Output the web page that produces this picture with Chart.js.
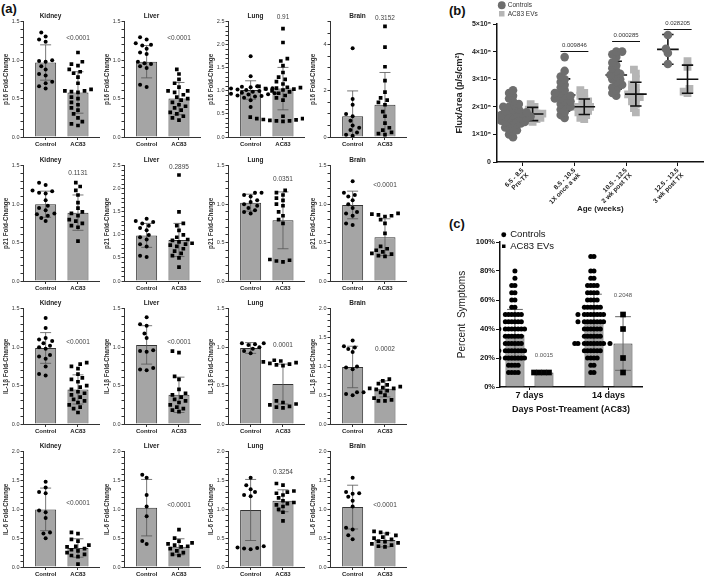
<!DOCTYPE html>
<html lang="en">
<head>
<meta charset="UTF-8">
<title>AC83 EVs: fold-change, flux and symptoms</title>
<script src="https://cdn.jsdelivr.net/npm/chart.js"></script>
<style>
  body { margin: 0; width: 709px; height: 580px; position: relative; overflow: hidden; background: #fff; font-family: "Liberation Sans", Arial, sans-serif; }
  canvas { position: absolute; }
  .tag { position: absolute; font-weight: bold; font-size: 13px; line-height: 1; color: #111; }
</style>
</head>
<body>
<div class="tag" style="left:1px;top:2px">(a)</div>
<div class="tag" style="left:449px;top:4px">(b)</div>
<div class="tag" style="left:449px;top:217px">(c)</div>
<script>
Chart.defaults.font.family = '"Liberation Sans", Arial, sans-serif';
Chart.defaults.color = '#222';

// ---- panel (a): fold-change, Control vs AC83, per organ ----
const organs = ['Kidney', 'Liver', 'Lung', 'Brain'];
const groups = ['Control', 'AC83'];
const markers = ['p16', 'p21', 'IL-1β', 'IL-6'];

const p16Ctrl = [
  [1.36, 1.31, 1.27, 1.24, 1.0, 0.99, 0.98, 0.92, 0.88, 0.82, 0.8, 0.72, 0.7, 0.66, 0.63],
  [1.3, 1.27, 1.22, 1.2, 1.19, 1.15, 1.1, 1.08, 0.98, 0.96, 0.95, 0.92, 0.9, 0.68, 0.65],
  [1.75, 1.32, 1.1, 1.09, 1.08, 1.07, 1.06, 1.05, 1.04, 1.03, 1.02, 1.0, 0.98, 0.97, 0.96, 0.95, 0.94, 0.93, 0.92, 0.9, 0.89, 0.88, 0.85, 0.8, 0.65],
  [3.85, 1.65, 1.4, 1.0, 0.9, 0.7, 0.5, 0.4, 0.3, 0.2, 0.1, 0.05]
];
const p16AC83 = [
  [1.1, 0.98, 0.95, 0.93, 0.88, 0.85, 0.83, 0.78, 0.7, 0.62, 0.6, 0.6, 0.59, 0.58, 0.52, 0.5, 0.45, 0.42, 0.38, 0.35, 0.3, 0.25, 0.2, 0.17, 0.15],
  [0.88, 0.82, 0.75, 0.7, 0.65, 0.6, 0.6, 0.58, 0.55, 0.52, 0.5, 0.48, 0.45, 0.42, 0.4, 0.38, 0.35, 0.32, 0.3, 0.27, 0.25, 0.22],
  [2.35, 2.05, 1.7, 1.65, 1.55, 1.4, 1.3, 1.25, 1.2, 1.15, 1.1, 1.1, 1.08, 1.07, 1.06, 1.05, 1.04, 1.02, 1.0, 0.98, 0.95, 0.9, 0.85, 0.8, 0.45, 0.43, 0.42, 0.4, 0.4, 0.38, 0.37, 0.36, 0.35, 0.35, 0.34],
  [4.8, 3.9, 3.05, 2.45, 1.95, 1.7, 1.6, 1.5, 1.4, 1.1, 0.9, 0.6, 0.4, 0.3, 0.2, 0.15, 0.1]
];
const p16Mean = [[0.97, 0.58], [0.98, 0.5], [1.02, 1.05], [0.9, 1.4]];
const p16SD = [[0.23, 0.27], [0.21, 0.21], [0.2, 0.46], [1.1, 1.4]];
const p16P = ['<0.0001', '<0.0001', '0.91', '0.3152'];
const p16PAt = [1.28, 1.28, 2.6, 5.15];
const p16Max = [1.5, 1.5, 2.5, 5];

const p21Ctrl = [
  [1.28, 1.25, 1.18, 1.17, 1.15, 1.14, 1.05, 0.98, 0.95, 0.92, 0.88, 0.87, 0.85, 0.82, 0.78],
  [1.35, 1.3, 1.28, 1.25, 1.2, 1.15, 1.1, 1.0, 0.95, 0.9, 0.8, 0.75, 0.55, 0.52],
  [1.15, 1.15, 1.12, 1.1, 1.05, 1.03, 1.0, 0.98, 0.95, 0.92, 0.9, 0.88],
  [1.3, 1.15, 1.12, 1.1, 1.05, 1.0, 0.95, 0.9, 0.88, 0.85, 0.75, 0.73]
];
const p21AC83 = [
  [1.28, 1.23, 1.18, 1.12, 1.02, 0.95, 0.9, 0.88, 0.85, 0.8, 0.78, 0.75, 0.72, 0.7, 0.52],
  [2.3, 1.5, 1.25, 1.2, 1.1, 1.0, 0.95, 0.9, 0.88, 0.85, 0.82, 0.8, 0.78, 0.75, 0.7, 0.65, 0.6, 0.55, 0.5, 0.3],
  [1.18, 1.15, 1.12, 1.08, 1.05, 1.0, 0.98, 0.9, 0.85, 0.8, 0.75, 0.28, 0.27, 0.26, 0.25],
  [0.88, 0.87, 0.86, 0.85, 0.84, 0.8, 0.75, 0.62, 0.45, 0.42, 0.4, 0.38, 0.36, 0.35, 0.33, 0.32]
];
const p21Mean = [[1.0, 0.89], [0.99, 0.89], [1.02, 0.79], [0.99, 0.57]];
const p21SD = [[0.17, 0.23], [0.26, 0.36], [0.11, 0.37], [0.18, 0.24]];
const p21P = ['0.1131', '0.2895', '0.0351', '<0.0001'];
const p21PAt = [1.41, 2.46, 1.32, 1.25];
const p21Max = [1.5, 2.5, 1.5, 1.5];

const il1bCtrl = [
  [1.38, 1.25, 1.12, 1.1, 1.08, 1.05, 1.02, 1.0, 0.98, 0.9, 0.88, 0.85, 0.75, 0.65, 0.63],
  [1.39, 1.3, 1.28, 1.18, 1.12, 0.96, 0.95, 0.94, 0.73, 0.71, 0.7],
  [1.05, 1.05, 1.04, 1.03, 1.0, 0.98, 0.95, 0.92],
  [1.45, 1.35, 1.33, 1.3, 1.25, 1.0, 0.98, 0.95, 0.55, 0.55, 0.52, 0.5]
];
const il1bAC83 = [
  [0.8, 0.78, 0.75, 0.72, 0.65, 0.6, 0.58, 0.55, 0.5, 0.48, 0.45, 0.42, 0.4, 0.38, 0.35, 0.32, 0.3, 0.28, 0.25, 0.22, 0.2, 0.15],
  [0.95, 0.93, 0.62, 0.58, 0.45, 0.4, 0.38, 0.35, 0.32, 0.3, 0.28, 0.25, 0.22, 0.2, 0.18, 0.16],
  [0.83, 0.82, 0.81, 0.8, 0.79, 0.78, 0.77, 0.76, 0.3, 0.28, 0.26, 0.25, 0.23, 0.22, 0.21],
  [0.78, 0.75, 0.7, 0.68, 0.65, 0.63, 0.62, 0.62, 0.6, 0.58, 0.55, 0.5, 0.45, 0.42, 0.4, 0.4]
];
const il1bMean = [[0.99, 0.45], [1.03, 0.38], [0.99, 0.52], [0.99, 0.61]];
const il1bSD = [[0.2, 0.19], [0.25, 0.23], [0.07, 0.26], [0.36, 0.14]];
const il1bP = ['<0.0001', '<0.0001', '0.0001', '0.0002'];
const il1bPAt = [1.07, 1.07, 1.03, 1.3];
const il1bMax = [1.5, 1.5, 1.5, 2];

const il6Ctrl = [
  [1.48, 1.38, 1.3, 1.28, 0.98, 0.95, 0.85, 0.6, 0.58, 0.5],
  [1.6, 1.55, 1.25, 1.05, 0.88, 0.45, 0.4],
  [1.55, 1.42, 1.35, 1.3, 1.25, 1.23, 0.36, 0.34, 0.33, 0.32, 0.31],
  [1.55, 1.3, 1.28, 1.27, 1.22, 1.15, 1.05, 0.68, 0.65, 0.55, 0.48]
];
const il6AC83 = [
  [0.6, 0.58, 0.48, 0.45, 0.38, 0.36, 0.35, 0.32, 0.3, 0.28, 0.25, 0.22, 0.2, 0.18, 0.05],
  [0.65, 0.5, 0.45, 0.42, 0.4, 0.38, 0.36, 0.35, 0.32, 0.28, 0.25, 0.22, 0.2],
  [1.45, 1.42, 1.32, 1.3, 1.28, 1.25, 1.2, 1.15, 1.12, 1.1, 1.08, 1.05, 1.0, 0.95, 0.8],
  [0.62, 0.6, 0.58, 0.55, 0.52, 0.5, 0.48, 0.45, 0.44, 0.42, 0.4, 0.38, 0.36, 0.35]
];
const il6Mean = [[1.0, 0.33], [1.03, 0.35], [0.99, 1.15], [1.04, 0.47]];
const il6SD = [[0.37, 0.16], [0.49, 0.14], [0.53, 0.19], [0.38, 0.12]];
const il6P = ['<0.0001', '<0.0001', '0.3254', '<0.0001'];
const il6PAt = [1.1, 1.07, 1.65, 1.07];
const il6Max = [2, 2, 2, 2];

// ---- panel (b): flux by age, x10^5 p/s/cm2 ----
const ageLabels = [['6.5 - 8.5', 'Pre-TX'], ['8.5 - 10.5', '1X once a wk'], ['10.5 - 12.5', '2 wk post TX'], ['12.5 - 13.5', '3 wk post TX']];
const fluxCtrl = [
  [0.9, 1.0, 1.1, 1.15, 1.2, 1.25, 1.3, 1.35, 1.4, 1.4, 1.45, 1.45, 1.5, 1.5, 1.55, 1.55, 1.6, 1.6, 1.6, 1.65, 1.65, 1.7, 1.7, 1.7, 1.75, 1.75, 1.8, 1.8, 1.85, 1.9, 1.9, 2.0, 2.0, 2.05, 2.1, 2.2, 2.3, 2.4, 2.5, 2.6],
  [1.6, 1.7, 1.8, 1.9, 2.0, 2.0, 2.1, 2.2, 2.2, 2.3, 2.3, 2.4, 2.4, 2.5, 2.5, 2.6, 2.7, 2.8, 2.9, 3.0, 3.1, 3.3, 3.8],
  [2.4, 2.5, 2.6, 2.7, 2.75, 2.8, 2.9, 3.0, 3.0, 3.1, 3.15, 3.2, 3.3, 3.4, 3.5, 3.6, 3.8, 3.9, 4.0, 4.0],
  [3.55, 3.95, 4.1, 4.6]
];
const fluxEV = [
  [1.45, 1.5, 1.55, 1.6, 1.6, 1.65, 1.7, 1.7, 1.75, 1.75, 1.8, 1.85, 1.9, 2.0, 2.1],
  [1.55, 1.6, 1.7, 1.75, 1.8, 1.85, 1.9, 1.95, 2.0, 2.0, 2.05, 2.1, 2.2, 2.3, 2.4, 2.5, 2.6],
  [1.8, 1.95, 2.1, 2.2, 2.3, 2.35, 2.4, 2.45, 2.5, 2.6, 2.7, 2.8, 3.0, 3.2, 3.35],
  [2.5, 2.55, 2.65, 3.45, 3.65]
];
const fluxCtrlMean = [1.68, 2.43, 3.15, 4.08];
const fluxCtrlSD = [0.37, 0.58, 0.5, 0.54];
const fluxEVMean = [1.74, 2.0, 2.46, 3.0];
const fluxEVSD = [0.24, 0.28, 0.43, 0.51];
const sigGroup = [1, 2, 3];
const sigP = ['0.009846', '0.000285', '0.028205'];
const sigY = [4.03, 4.38, 4.82];

// ---- panel (c): percent symptoms ----
const days = ['7 days', '14 days'];
const sympLevels = [10, 15, 20, 25, 30, 35, 40, 45, 50, 55, 60, 65, 70, 75, 80, 85, 90];
const sympCount7 = [4, 4, 8, 8, 6, 6, 8, 6, 6, 2, 2, 2, 2, 1, 1, 0, 0];
const sympCount14 = [2, 2, 4, 6, 10, 6, 6, 8, 8, 6, 4, 4, 4, 2, 2, 0, 2];
const sympEV7 = [10, 10, 10, 10];
const sympEV14 = [10, 20, 40, 50];
const sympCtrlMean = [36, 45];
const sympCtrlSD = [17.5, 19];
const sympEVMean = [10, 30];
const sympEVSD = [0, 18.5];
const sympP = ['0.0015', '0.2048'];
const sympPAt = [22, 63];

// ---------- helpers ----------
function addCanvas(left, top, w, h) {
  const cv = document.createElement('canvas');
  cv.width = w; cv.height = h;
  cv.style.left = left + 'px';
  cv.style.top = top + 'px';
  document.body.appendChild(cv);
  return cv;
}

// simple beeswarm: x offsets (in axis units) so dots don't pile up
function swarm(vals, pxY, pxX, dist, step) {
  const order = vals.map((v, i) => i).sort((a, b) => vals[a] - vals[b]);
  const placed = [], off = vals.map(() => 0);
  order.forEach(i => {
    const y = vals[i] * pxY;
    for (let k = 0; k < 80; k++) {
      const x = Math.ceil(k / 2) * step * (k % 2 ? -1 : 1);
      if (placed.every(p => Math.hypot(p[0] - x, p[1] - y) >= dist)) {
        placed.push([x, y]);
        off[i] = x / pxX;
        return;
      }
    }
  });
  return off;
}

const errorBars = {
  id: 'errorBars',
  afterDatasetDraw(chart, args, opts) {
    if (!opts.items || args.index !== opts.after) return;
    const ctx = chart.ctx, area = chart.chartArea;
    const x = chart.scales.x, y = chart.scales.y;
    ctx.save();
    ctx.strokeStyle = opts.color;
    ctx.lineWidth = opts.width;
    for (const it of opts.items) {
      const px = x.getPixelForValue(it.x);
      const cap = x.getPixelForValue(it.x + opts.cap) - px;
      const lo = it.mean - it.sd;
      const yTop = y.getPixelForValue(it.mean + it.sd);
      const yBot = lo > 0 ? y.getPixelForValue(lo) : area.bottom;
      ctx.beginPath();
      if (it.sd > 0) {
        ctx.moveTo(px, yTop); ctx.lineTo(px, yBot);
        ctx.moveTo(px - cap, yTop); ctx.lineTo(px + cap, yTop);
        if (lo > 0) { ctx.moveTo(px - cap, yBot); ctx.lineTo(px + cap, yBot); }
      }
      if (opts.meanW) {
        const ym = y.getPixelForValue(it.mean);
        const mw = x.getPixelForValue(it.x + opts.meanW) - px;
        ctx.moveTo(px - mw, ym); ctx.lineTo(px + mw, ym);
      }
      ctx.stroke();
    }
    ctx.restore();
  }
};

const notes = {
  id: 'notes',
  afterDraw(chart, args, opts) {
    const ctx = chart.ctx;
    const x = chart.scales.x, y = chart.scales.y;
    ctx.save();
    ctx.strokeStyle = '#111';
    ctx.lineWidth = 1;
    for (const l of (opts.lines || [])) {
      const yy = Math.round(y.getPixelForValue(l.y)) + 0.5;
      ctx.beginPath();
      ctx.moveTo(x.getPixelForValue(l.x0), yy);
      ctx.lineTo(x.getPixelForValue(l.x1), yy);
      ctx.stroke();
    }
    ctx.textAlign = 'center';
    ctx.textBaseline = 'middle';
    for (const t of (opts.texts || [])) {
      ctx.font = t.font;
      ctx.fillStyle = t.color;
      ctx.fillText(t.text, x.getPixelForValue(t.x), y.getPixelForValue(t.y));
    }
    ctx.restore();
  }
};
Chart.register(errorBars, notes);

// ---------- panel (a) ----------
const tables = [
  [p16Ctrl, p16AC83, p16Mean, p16SD, p16P, p16PAt, p16Max],
  [p21Ctrl, p21AC83, p21Mean, p21SD, p21P, p21PAt, p21Max],
  [il1bCtrl, il1bAC83, il1bMean, il1bSD, il1bP, il1bPAt, il1bMax],
  [il6Ctrl, il6AC83, il6Mean, il6SD, il6P, il6PAt, il6Max]
];
const rowTop = [22, 166, 309, 452];
const axisLeft = [23, 124, 228, 330];

function foldChart(r, c) {
  const [ctrlAll, acAll, meanAll, sdAll, pAll, pAtAll, maxAll] = tables[r];
  const yMax = maxAll[c];
  const major = yMax > 3 ? 2 : 0.5;
  const minor = yMax > 3 ? 0.5 : 0.1;
  const pxY = 115 / yMax, pxX = 32.6;
  const ctrl = ctrlAll[c], ac = acAll[c];
  const offC = swarm(ctrl, pxY, pxX, 5, 2.2);
  const offA = swarm(ac, pxY, pxX, 5, 2.2);
  const cv = addCanvas(axisLeft[c] - 22, rowTop[r] - 20, 102, 150);

  new Chart(cv, {
    type: 'bar',
    data: {
      datasets: [
        {
          type: 'bar',
          data: [{ x: 0, y: meanAll[c][0] }, { x: 1, y: meanAll[c][1] }],
          backgroundColor: '#a5a5a5', borderColor: '#333', borderWidth: 1,
          barPercentage: 0.65, categoryPercentage: 1, order: 2
        },
        {
          type: 'scatter',
          data: ctrl.map((v, i) => ({ x: offC[i], y: v })),
          pointStyle: 'circle', pointRadius: 2, backgroundColor: '#000', borderWidth: 0, order: 1
        },
        {
          type: 'scatter',
          data: ac.map((v, i) => ({ x: 1 + offA[i], y: v })),
          pointStyle: 'rect', pointRadius: 2.6, backgroundColor: '#000', borderWidth: 0, order: 1
        }
      ]
    },
    options: {
      responsive: false, animation: false, events: [],
      layout: { padding: { top: 10, right: 3, bottom: 2, left: 0 } },
      plugins: {
        legend: { display: false },
        tooltip: { enabled: false },
        title: {
          display: true, text: organs[c], color: '#222',
          font: { size: 6.5, weight: 'bold' }, padding: { top: 0, bottom: 2 }
        },
        errorBars: {
          after: 0, color: '#555', width: 0.8, cap: 0.17,
          items: [
            { x: 0, mean: meanAll[c][0], sd: sdAll[c][0] },
            { x: 1, mean: meanAll[c][1], sd: sdAll[c][1] }
          ]
        },
        notes: {
          texts: [{ x: 1, y: pAtAll[c], text: pAll[c], font: '6.5px "Liberation Sans", Arial', color: '#444' }]
        }
      },
      scales: {
        x: {
          type: 'linear', min: -0.7, max: 1.65, offset: false,
          afterBuildTicks: s => { s.ticks = [{ value: 0 }, { value: 1 }]; },
          afterFit: s => { s.height = 13; },
          grid: { drawOnChartArea: false, offset: false, tickLength: 3, color: '#333' },
          border: { color: '#333', width: 1 },
          ticks: {
            callback: v => groups[v], autoSkip: false, maxRotation: 0,
            font: { size: 6, weight: 'bold' }, color: '#222', padding: 1
          }
        },
        y: {
          min: 0, max: yMax,
          afterFit: s => { s.width = 22; },
          grid: { drawOnChartArea: false, tickLength: 2.5, color: '#333' },
          border: { color: '#333', width: 1 },
          ticks: {
            stepSize: minor, autoSkip: false, padding: 1,
            font: { size: 5.5 }, color: '#333',
            callback: v => {
              const q = v / major;
              if (Math.abs(q - Math.round(q)) > 1e-6) return '';
              return major >= 1 ? String(Math.round(v)) : v.toFixed(1);
            }
          },
          title: {
            display: true, text: markers[r] + ' Fold-Change', color: '#333',
            font: { size: 6.3, weight: 'bold' }, padding: 1
          }
        }
      }
    }
  });
}

for (let r = 0; r < 4; r++) {
  for (let c = 0; c < 4; c++) foldChart(r, c);
}

// ---------- panel (b) ----------
(function () {
  const pxY = 27.6, pxX = 53;
  const ctrlPts = [], evPts = [], items = [];
  fluxCtrl.forEach((vals, g) => {
    const off = swarm(vals, pxY, pxX, 4.2, 2);
    vals.forEach((v, i) => ctrlPts.push({ x: g - 0.19 + off[i], y: v }));
    items.push({ x: g - 0.19, mean: fluxCtrlMean[g], sd: fluxCtrlSD[g] });
  });
  fluxEV.forEach((vals, g) => {
    const off = swarm(vals, pxY, pxX, 4.2, 2);
    vals.forEach((v, i) => evPts.push({ x: g + 0.19 + off[i], y: v }));
    items.push({ x: g + 0.19, mean: fluxEVMean[g], sd: fluxEVSD[g] });
  });

  const cv = addCanvas(452, 0, 257, 222);
  new Chart(cv, {
    type: 'scatter',
    data: {
      datasets: [
        { label: 'Controls', data: ctrlPts, pointStyle: 'circle', pointRadius: 4.3, backgroundColor: '#6e6e6e', borderColor: '#6e6e6e', borderWidth: 0 },
        { label: 'AC83 EVs', data: evPts, pointStyle: 'rect', pointRadius: 5.5, backgroundColor: '#b5b5b5', borderColor: '#b5b5b5', borderWidth: 0 }
      ]
    },
    options: {
      responsive: false, animation: false, events: [],
      layout: { padding: { top: 24, right: 2, bottom: 8, left: 0 } },
      plugins: {
        tooltip: { enabled: false },
        legend: {
          position: 'chartArea', align: 'start',
          labels: { usePointStyle: true, boxWidth: 5.5, boxHeight: 5.5, padding: 2, color: '#333', font: { size: 6.5, lineHeight: 1.1 } }
        },
        errorBars: { after: 1, color: '#111', width: 1.6, cap: 0.11, meanW: 0.21, items: items },
        notes: {
          lines: sigGroup.map((g, i) => ({ x0: g - 0.27, x1: g + 0.27, y: sigY[i] })),
          texts: sigGroup.map((g, i) => ({ x: g, y: sigY[i] + 0.2, text: sigP[i], font: '6px "Liberation Sans", Arial', color: '#333' }))
        }
      },
      scales: {
        x: {
          type: 'linear', min: -0.5, max: 3.5,
          afterBuildTicks: s => { s.ticks = [0, 1, 2, 3].map(v => ({ value: v })); },
          afterFit: s => { s.height = 52; },
          grid: { drawOnChartArea: false, tickLength: 4, color: '#111' },
          border: { color: '#111', width: 1.5 },
          ticks: {
            callback: v => ageLabels[v], autoSkip: false, minRotation: 45, maxRotation: 45,
            font: { size: 6.5, weight: 'bold', lineHeight: 1.05 }, color: '#222', padding: 1
          },
          title: { display: true, text: 'Age (weeks)', font: { size: 8, weight: 'bold' }, color: '#222', padding: 0 }
        },
        y: {
          min: 0, max: 5,
          afterFit: s => { s.width = 45; },
          grid: { drawOnChartArea: false, tickLength: 4, color: '#111' },
          border: { color: '#111', width: 1.5 },
          ticks: {
            stepSize: 1, padding: 2, font: { size: 7, weight: 'bold' }, color: '#222',
            callback: v => v === 0 ? '0' : v + '×10⁵'
          },
          title: { display: true, text: 'Flux/Area (p/s/cm²)', font: { size: 9, weight: 'bold' }, color: '#222', padding: 2 }
        }
      }
    }
  });
})();

// ---------- panel (c) ----------
(function () {
  const pxY = 1.45, pxX = 79, sh = 0.184;
  const expand = counts => sympLevels.flatMap((lv, i) => Array(counts[i]).fill(lv));
  const ctrlPts = [], evPts = [];
  [expand(sympCount7), expand(sympCount14)].forEach((vals, d) => {
    const off = swarm(vals, pxY, pxX, 3.2, 3.2);
    vals.forEach((v, i) => ctrlPts.push({ x: d - sh + off[i], y: v }));
  });
  [sympEV7, sympEV14].forEach((vals, d) => {
    const off = swarm(vals, pxY, pxX, 5, 5);
    vals.forEach((v, i) => evPts.push({ x: d + sh + off[i], y: v }));
  });

  const cv = addCanvas(455, 228, 192, 190);
  new Chart(cv, {
    type: 'bar',
    data: {
      datasets: [
        {
          type: 'bar', label: 'Controls bar',
          data: sympCtrlMean.map((m, d) => ({ x: d, y: m })),
          backgroundColor: '#a6a6a6', borderColor: '#333', borderWidth: 1,
          barPercentage: 0.655, categoryPercentage: 0.734, order: 2
        },
        {
          type: 'bar', label: 'AC83 bar',
          data: sympEVMean.map((m, d) => ({ x: d, y: m })),
          backgroundColor: '#a6a6a6', borderColor: '#333', borderWidth: 1,
          barPercentage: 0.655, categoryPercentage: 0.734, order: 2
        },
        {
          type: 'scatter', label: 'Controls', data: ctrlPts,
          pointStyle: 'circle', pointRadius: 2.5, backgroundColor: '#000', borderColor: '#000', borderWidth: 0, order: 1
        },
        {
          type: 'scatter', label: 'AC83 EVs', data: evPts,
          pointStyle: 'rect', pointRadius: 4, backgroundColor: '#000', borderColor: '#000', borderWidth: 0, order: 1
        }
      ]
    },
    options: {
      responsive: false, animation: false, events: [],
      layout: { padding: { top: 14, right: 5, bottom: 3, left: 0 } },
      plugins: {
        tooltip: { enabled: false },
        legend: {
          position: 'chartArea', align: 'start',
          labels: {
            usePointStyle: true, boxWidth: 3.5, boxHeight: 3.5, padding: 2, color: '#111',
            font: { size: 9.5, lineHeight: 0.95 },
            filter: item => item.datasetIndex > 1
          }
        },
        errorBars: {
          after: 0, color: '#666', width: 1, cap: 0.1,
          items: [0, 1].flatMap(d => [
            { x: d - sh, mean: sympCtrlMean[d], sd: sympCtrlSD[d] },
            { x: d + sh, mean: sympEVMean[d], sd: sympEVSD[d] }
          ])
        },
        notes: {
          texts: [0, 1].map(d => ({ x: d + sh, y: sympPAt[d], text: sympP[d], font: '6px "Liberation Sans", Arial', color: '#555' }))
        }
      },
      scales: {
        x: {
          type: 'linear', min: -0.373, max: 1.424, offset: false,
          afterBuildTicks: s => { s.ticks = [{ value: 0 }, { value: 1 }]; },
          afterFit: s => { s.height = 28; },
          grid: { drawOnChartArea: false, offset: false, tickLength: 3, color: '#111' },
          border: { color: '#111', width: 1.5 },
          ticks: { callback: v => days[v], autoSkip: false, maxRotation: 0, font: { size: 9, weight: 'bold' }, color: '#111', padding: 0 },
          title: { display: true, text: 'Days Post-Treament (AC83)', font: { size: 9, weight: 'bold' }, color: '#111', padding: 0 }
        },
        y: {
          min: 0, max: 100,
          afterFit: s => { s.width = 45; },
          grid: { drawOnChartArea: false, tickLength: 4, color: '#111' },
          border: { color: '#111', width: 1.5 },
          ticks: { stepSize: 20, padding: 1, font: { size: 7.5, weight: 'bold' }, color: '#111', callback: v => v + '%' },
          title: { display: true, text: 'Percent  Symptoms', font: { size: 10 }, color: '#222', padding: 1 }
        }
      }
    }
  });
})();
</script>
</body>
</html>
